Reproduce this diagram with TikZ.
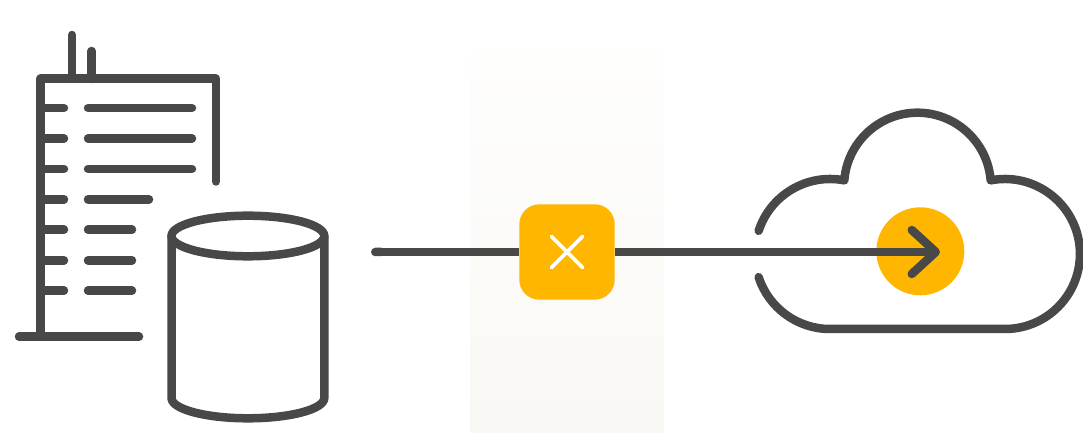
\documentclass[tikz,border=0pt]{standalone}
\usetikzlibrary{arrows.meta}
\definecolor{ink}{HTML}{484848}
\definecolor{amber}{HTML}{FFB600}
\definecolor{bandlow}{HTML}{FAF8F4}
\definecolor{bandhigh}{HTML}{FEFEFD}
\pgfdeclareverticalshading{bandfade}{100bp}{color(0bp)=(bandlow); color(25bp)=(bandlow); color(75bp)=(bandhigh); color(100bp)=(bandhigh)}
\tikzset{
  icon/.style={draw=ink,line width=8.5pt,line cap=round,line join=round},
  gatebox/.style={fill=amber,rounded corners=20pt,minimum size=95.4pt,inner sep=0pt},
  badge/.style={circle,fill=amber,minimum size=88pt,inner sep=0pt},
  link/.style={draw=ink,line width=8.5pt},
  cross/.style={draw=white,line width=3.6pt,line cap=round}
}
\begin{document}
\begin{tikzpicture}[x=1pt,y=1pt]
\useasboundingbox (0,0) rectangle (1083,433);
% band
\shade[shading=bandfade] (470,0) rectangle (663.5,383);
% building
\draw[icon] (72,398) -- (72,354);
\draw[icon] (91.7,382) -- (91.7,354);
\draw[icon] (216,251.5) -- (216,354.3) -- (40.7,354.3) -- (40.7,96.3);
\draw[icon] (19,96.3) -- (139,96.3);
\foreach \y/\e in {108/192,138.5/192,169/192,199.3/149,229.7/132,260.3/132,290.7/132}{
  \draw[icon] (45,433-\y) -- (64,433-\y);
  \draw[icon] (88,433-\y) -- (\e,433-\y);
}
% cylinder
\draw[icon] (247.9,197) ellipse [x radius=76.4,y radius=20.3];
\draw[icon] (171.5,197) -- (171.5,35) arc [start angle=180,end angle=360,x radius=76.4,y radius=20.3] -- (324.3,197);
% cloud
\draw[icon] (758.67,202.18) arc [start angle=162,end angle=79,radius=75]
  arc [start angle=175.53,end angle=4.47,radius=73.4]
  arc [start angle=101,end angle=-90,radius=75]
  -- (830,104)
  arc [start angle=-90,end angle=-162,radius=75];
% nodes and connectors
\node[badge] (dest) at (920.3,181.7) {};
\node[gatebox] (gate) at (567,181) {};
\coordinate (src) at (371,181);
\coordinate (tip) at (940,181);
\draw[link,{Round Cap[]}-] (src) -- (gate.west);
\draw[link,-{Straight Barb[round,length=24pt,width=44pt]}] (gate.east) -- (tip);
\draw[cross] ([shift={(-15.5,15.5)}]gate.center) -- ([shift={(15.5,-15.5)}]gate.center);
\draw[cross] ([shift={(-15.5,-15.5)}]gate.center) -- ([shift={(15.5,15.5)}]gate.center);
\end{tikzpicture}
\end{document}
